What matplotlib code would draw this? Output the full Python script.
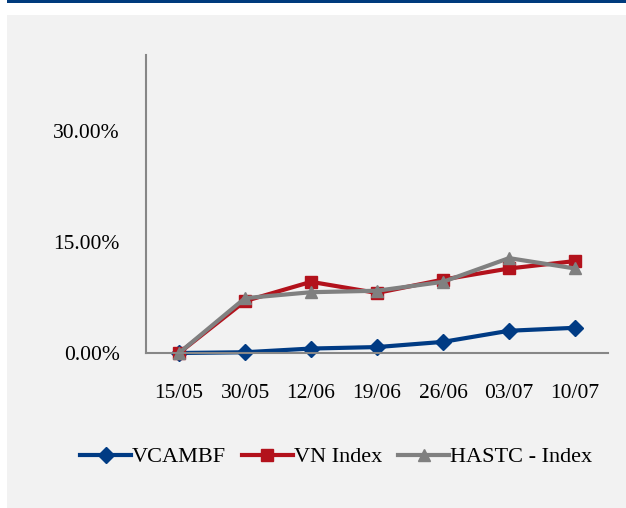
import matplotlib.pyplot as plt
from matplotlib.patches import Rectangle
from matplotlib.ticker import PercentFormatter

# Chart data (cumulative return, %)
dates = ["15/05", "30/05", "12/06", "19/06", "26/06", "03/07", "10/07"]
vcambf = [0.0, 0.1, 0.6, 0.8, 1.5, 3.0, 3.4]
vn_index = [0.0, 7.0, 9.6, 8.1, 9.9, 11.4, 12.4]
hastc_index = [0.0, 7.4, 8.2, 8.4, 9.6, 12.8, 11.4]
y_ticks = [0, 15, 30]

BLUE = "#003b84"
RED = "#b3121c"
GRAY = "#808080"
BG = "#f2f2f2"


def main() -> None:
    plt.rcParams["font.family"] = ["Liberation Serif", "DejaVu Serif"]
    fig = plt.figure(figsize=(6.26, 5.08), dpi=100)

    # panel background and top rule
    fig.add_artist(Rectangle((7 / 626, 0), 1, 1 - 15 / 508, transform=fig.transFigure,
                             facecolor=BG, edgecolor="none", zorder=-10))
    fig.add_artist(Rectangle((7 / 626, 1 - 3 / 508), 1, 3 / 508, transform=fig.transFigure,
                             facecolor="#003b7d", edgecolor="none", zorder=-10))

    ax = fig.add_axes([146 / 626, 1 - 353 / 508, (608 - 146) / 626, (353 - 55) / 508])
    ax.set_facecolor("none")

    x = range(len(dates))
    ax.plot(x, vcambf, color=BLUE, linewidth=3.5, marker="D", markersize=12,
            clip_on=False, label="VCAMBF")
    ax.plot(x, vn_index, color=RED, linewidth=3.5, marker="s", markersize=12,
            clip_on=False, label="VN Index")
    ax.plot(x, hastc_index, color=GRAY, linewidth=3.5, marker="^", markersize=13,
            clip_on=False, label="HASTC - Index")

    ax.set_xlim(-0.5, len(dates) - 0.5)
    ax.set_ylim(0, 40.2)
    ax.set_xticks(list(x))
    ax.set_xticklabels(dates)
    ax.set_yticks(y_ticks)
    ax.yaxis.set_major_formatter(PercentFormatter(decimals=2))

    for side in ("top", "right"):
        ax.spines[side].set_visible(False)
    for side in ("left", "bottom"):
        ax.spines[side].set_color("#878787")
        ax.spines[side].set_linewidth(1.5)
    ax.tick_params(length=0, labelsize=15.5, colors="black")
    ax.tick_params(axis="x", pad=22)
    ax.tick_params(axis="y", pad=19)

    handles, labels = ax.get_legend_handles_labels()
    for h in handles:
        h.set_markersize(8)
        h.set_linewidth(3)
    fig.legend(handles, labels, loc="center", bbox_to_anchor=(0.537, 1 - 457 / 508),
               ncol=3, frameon=False, fontsize=16, handlelength=2.3,
               handletextpad=0.05, columnspacing=0.7)

    fig.savefig("out.png", dpi=100, facecolor="white")


if __name__ == "__main__":
    main()
